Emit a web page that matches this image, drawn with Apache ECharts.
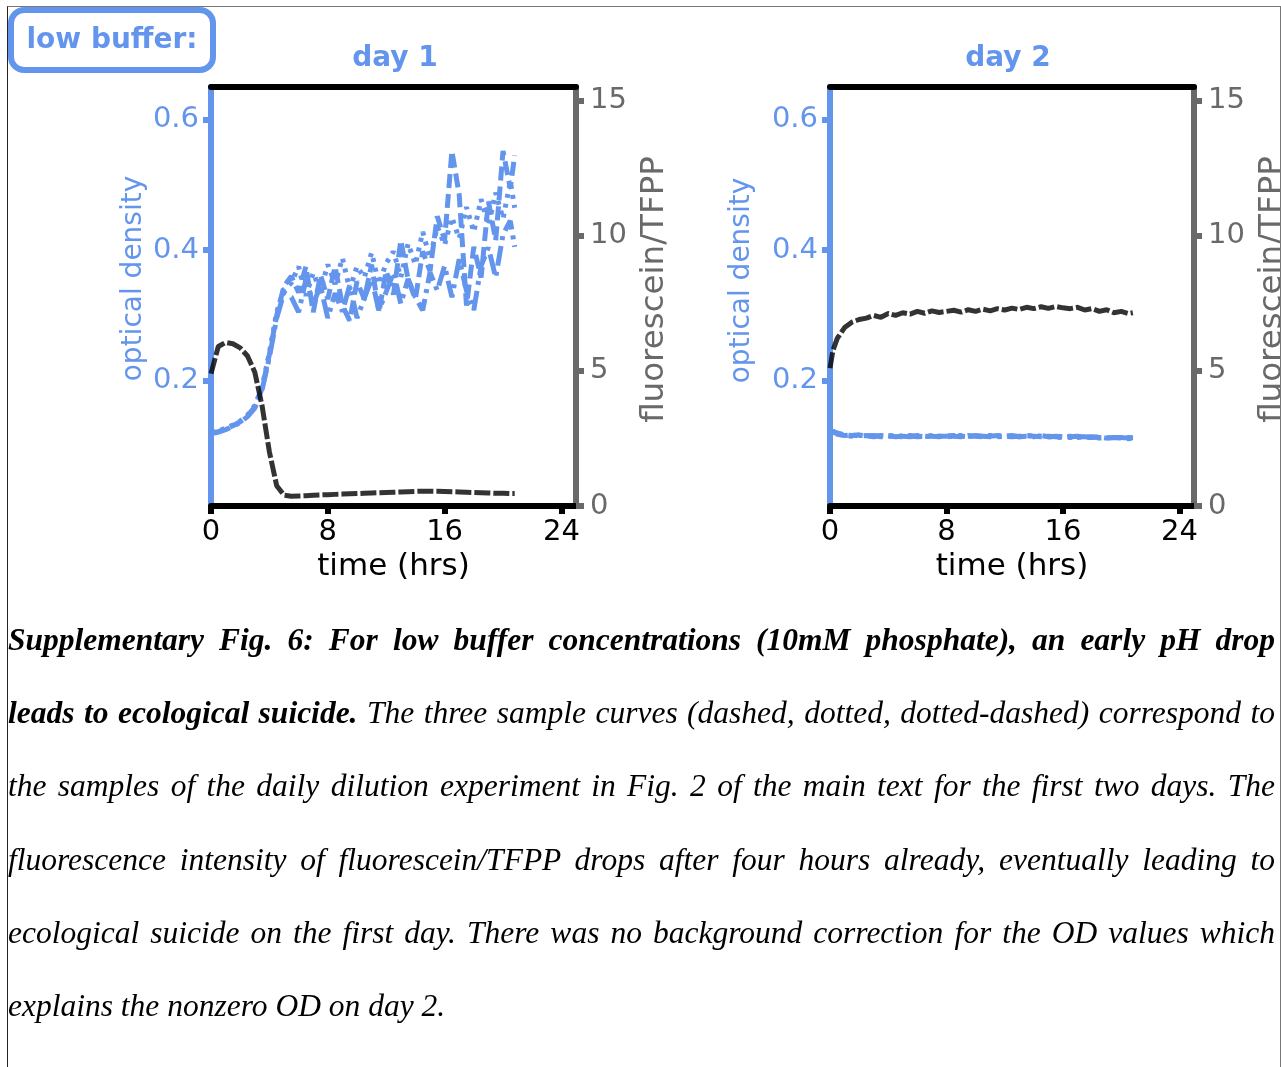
<!DOCTYPE html>
<html>
<head>
<meta charset="utf-8">
<script src="https://cdn.jsdelivr.net/npm/echarts@6.0.0/dist/echarts.min.js"></script>
<style>
  body { margin: 0; background: #fff; width: 1281px; height: 1067px; overflow: hidden; position: relative; }
  #chart { position: absolute; left: 0; top: 0; width: 1281px; height: 600px; }
  #frame { position: absolute; left: 7px; top: 6px; width: 1272px; height: 1200px;
           border-top: 1px solid #777; border-left: 1px solid #222; border-right: 1px solid #777; }
  #caption { position: absolute; left: 8px; top: 603px; width: 1267px;
             font-family: 'Liberation Serif', serif; font-style: italic; font-size: 31.5px;
             line-height: 73.2px; color: #000; }
  #caption .j { text-align: justify; text-align-last: justify; }
</style>
</head>
<body>
<div id="chart"></div>
<div id="frame"></div>
<div id="caption">
  <div class="j"><b>Supplementary Fig. 6: For low buffer concentrations (10mM phosphate), an early pH drop</b></div>
  <div class="j"><b>leads to ecological suicide.</b> The three sample curves (dashed, dotted, dotted-dashed) correspond to</div>
  <div class="j">the samples of the daily dilution experiment in Fig. 2 of the main text for the first two days. The</div>
  <div class="j">fluorescence intensity of fluorescein/TFPP drops after four hours already, eventually leading to</div>
  <div class="j">ecological suicide on the first day. There was no background correction for the OD values which</div>
  <div>explains the nonzero OD on day 2.</div>
</div>
<script>
// tick labels
const xTicks = [0, 8, 16, 24]
const odTicks = [0.2, 0.4, 0.6]
const flTicks = [0, 5, 10, 15]

// day 1 (hours)
const hours1 = [0, 0.5, 1, 1.5, 2, 2.5, 3, 3.5, 4, 4.5, 5, 5.5, 6, 6.5, 7, 7.5, 8, 8.5, 9, 9.5, 10,
  10.5, 11, 11.5, 12, 12.5, 13, 13.5, 14, 14.5, 15, 15.5, 16, 16.5, 17, 17.5, 18, 18.5, 19, 19.5, 20, 20.5, 20.8]
// optical density, sample curves: dashed / dotted / dotted-dashed
const od1a = [0.120, 0.122, 0.126, 0.131, 0.137, 0.146, 0.160, 0.188, 0.240, 0.300, 0.345,
  0.360, 0.335, 0.375, 0.305, 0.362, 0.325, 0.375, 0.315, 0.292, 0.352, 0.325, 0.378, 0.305, 0.368, 0.332, 0.415,
  0.355, 0.325, 0.398, 0.368, 0.452, 0.415, 0.552, 0.485, 0.315, 0.405, 0.358, 0.475, 0.415, 0.552, 0.495, 0.545]
const od1b = [0.121, 0.123, 0.127, 0.132, 0.138, 0.147, 0.162, 0.190, 0.243, 0.305, 0.340,
  0.350, 0.375, 0.330, 0.365, 0.338, 0.378, 0.348, 0.388, 0.340, 0.375, 0.358, 0.396, 0.348, 0.380, 0.398, 0.358,
  0.410, 0.378, 0.428, 0.388, 0.436, 0.408, 0.450, 0.418, 0.466, 0.428, 0.478, 0.438, 0.488, 0.448, 0.505, 0.465]
const od1c = [0.119, 0.121, 0.125, 0.130, 0.136, 0.145, 0.158, 0.186, 0.236, 0.296, 0.335,
  0.328, 0.305, 0.355, 0.318, 0.345, 0.296, 0.334, 0.306, 0.346, 0.296, 0.326, 0.356, 0.308, 0.336, 0.366, 0.318,
  0.356, 0.328, 0.308, 0.366, 0.338, 0.376, 0.328, 0.386, 0.338, 0.308, 0.376, 0.404, 0.358, 0.424, 0.445, 0.405]
// fluorescein/TFPP
const fl1 = [4.9, 5.9, 6.05, 6.0, 5.85, 5.55, 4.95, 3.7, 2.0, 0.75, 0.40,
  0.36, 0.37, 0.38, 0.40, 0.41, 0.42, 0.43, 0.44, 0.45, 0.46, 0.47, 0.48, 0.49, 0.50, 0.51, 0.52,
  0.53, 0.54, 0.55, 0.55, 0.55, 0.54, 0.53, 0.52, 0.51, 0.50, 0.49, 0.48, 0.47, 0.47, 0.46, 0.46]

// day 2 (hours)
const hours2 = [0, 0.2, 0.5, 1, 1.5, 2, 2.5, 3, 3.5, 4, 4.5, 5, 5.5, 6, 6.5, 7, 7.5, 8, 8.5, 9, 9.5, 10,
  10.5, 11, 11.5, 12, 12.5, 13, 13.5, 14, 14.5, 15, 15.5, 16, 16.5, 17, 17.5, 18, 18.5, 19, 19.5, 20, 20.5, 20.8]
const od2a = [0.118, 0.122, 0.120, 0.117, 0.116, 0.117, 0.115, 0.116, 0.115, 0.116, 0.114, 0.115, 0.116, 0.114,
  0.115, 0.115, 0.114, 0.116, 0.115, 0.114, 0.116, 0.115, 0.114, 0.115, 0.116, 0.115, 0.114, 0.115, 0.116, 0.115,
  0.114, 0.115, 0.114, 0.113, 0.114, 0.115, 0.113, 0.114, 0.113, 0.112, 0.113, 0.112, 0.113, 0.112]
const od2b = [0.117, 0.121, 0.119, 0.116, 0.115, 0.116, 0.116, 0.115, 0.114, 0.115, 0.115, 0.114, 0.115, 0.115,
  0.114, 0.116, 0.115, 0.114, 0.115, 0.116, 0.115, 0.114, 0.115, 0.116, 0.114, 0.115, 0.115, 0.114, 0.115, 0.116,
  0.115, 0.114, 0.113, 0.114, 0.115, 0.113, 0.114, 0.113, 0.112, 0.113, 0.112, 0.113, 0.111, 0.112]
const od2c = [0.119, 0.123, 0.118, 0.116, 0.117, 0.115, 0.116, 0.114, 0.116, 0.115, 0.116, 0.115, 0.114, 0.116,
  0.115, 0.114, 0.115, 0.115, 0.116, 0.115, 0.114, 0.116, 0.115, 0.114, 0.115, 0.115, 0.116, 0.114, 0.115, 0.114,
  0.116, 0.114, 0.115, 0.114, 0.113, 0.114, 0.114, 0.113, 0.114, 0.112, 0.113, 0.113, 0.112, 0.113]
const fl2 = [5.1, 5.75, 6.2, 6.6, 6.8, 6.9, 6.95, 7.05, 6.98, 7.12, 7.05, 7.15, 7.1, 7.2, 7.13, 7.22, 7.16, 7.2,
  7.24, 7.17, 7.26, 7.2, 7.28, 7.22, 7.3, 7.25, 7.32, 7.27, 7.35, 7.3, 7.37, 7.31, 7.38, 7.33, 7.3, 7.35, 7.25,
  7.3, 7.2, 7.26, 7.15, 7.2, 7.12, 7.15]

const blue = '#6495ED'
const gray = '#696969'
const black = 'rgba(0,0,0,0.8)'

function pairs (xs, ys) {
  return xs.map((x, i) => [x, ys[i]])
}

function bottomAxis (g) {
  return {
    type: 'value', gridIndex: g, position: 'bottom', min: 0, max: 25,
    axisLine: { show: true, onZero: false, lineStyle: { color: '#000', width: 6 } },
    axisTick: { show: true, length: 8, lineStyle: { color: '#000', width: 6 }, customValues: xTicks },
    axisLabel: { color: '#000', fontSize: 29, margin: 12, customValues: xTicks },
    splitLine: { show: false },
    name: 'time (hrs)', nameLocation: 'middle', nameGap: 40,
    nameTextStyle: { color: '#000', fontSize: 31 }
  }
}

function topAxis (g) {
  return {
    type: 'value', gridIndex: g, position: 'top', min: 0, max: 25,
    axisLine: { show: true, onZero: false, lineStyle: { color: '#000', width: 6 } },
    axisTick: { show: false }, axisLabel: { show: false }, splitLine: { show: false }
  }
}

// shift lifts the rotated name above the axis middle
function odAxis (g, gap, shift) {
  return {
    type: 'value', gridIndex: g, position: 'left', min: 0.008, max: 0.65,
    axisLine: { show: true, onZero: false, lineStyle: { color: blue, width: 6 } },
    axisTick: { show: true, length: 8, lineStyle: { color: blue, width: 6 }, customValues: odTicks },
    axisLabel: { color: blue, fontSize: 29, margin: 12, customValues: odTicks, formatter: v => v.toFixed(1) },
    splitLine: { show: false },
    name: 'optical density', nameLocation: 'middle', nameGap: gap,
    nameTextStyle: { color: blue, fontSize: 28, padding: [0, 0, 0, shift] }
  }
}

function flAxis (g) {
  return {
    type: 'value', gridIndex: g, position: 'right', min: 0, max: 15.5,
    axisLine: { show: true, onZero: false, lineStyle: { color: gray, width: 6 } },
    axisTick: { show: true, length: 8, lineStyle: { color: gray, width: 6 }, customValues: flTicks },
    axisLabel: { color: gray, fontSize: 29, margin: 14, customValues: flTicks },
    splitLine: { show: false },
    name: 'fluorescein/TFPP', nameLocation: 'middle', nameGap: 62,
    nameTextStyle: { color: gray, fontSize: 32.5, padding: [0, 0, 0, 14] }
  }
}

function curve (xi, yi, data, color, dash, width) {
  return {
    type: 'line', xAxisIndex: xi, yAxisIndex: yi, data: data, symbol: 'none', silent: true,
    lineStyle: { color: color, width: width, type: dash, cap: 'butt' }
  }
}

const chart = echarts.init(document.getElementById('chart'))
chart.setOption({
  animation: false,
  textStyle: { fontFamily: 'DejaVu Sans' },
  grid: [
    { left: 211, top: 87, width: 365, height: 419, outerBoundsMode: 'none' },
    { left: 830, top: 87, width: 364, height: 419, outerBoundsMode: 'none' }
  ],
  xAxis: [bottomAxis(0), topAxis(0), bottomAxis(1), topAxis(1)],
  yAxis: [odAxis(0, 63, 36), flAxis(0), odAxis(1, 74, 32), flAxis(1)],
  graphic: [
    { type: 'rect', shape: { x: 11, y: 10, width: 202, height: 60, r: 13 },
      style: { fill: '#fff', stroke: blue, lineWidth: 6 } },
    { type: 'text', x: 112, y: 41,
      style: { text: 'low buffer:', fill: blue, font: 'bold 28px "DejaVu Sans"', align: 'center', verticalAlign: 'middle' } },
    { type: 'text', x: 395, y: 59,
      style: { text: 'day 1', fill: blue, font: 'bold 28px "DejaVu Sans"', align: 'center', verticalAlign: 'middle' } },
    { type: 'text', x: 1008, y: 59,
      style: { text: 'day 2', fill: blue, font: 'bold 28px "DejaVu Sans"', align: 'center', verticalAlign: 'middle' } }
  ],
  series: [
    curve(0, 0, pairs(hours1, od1a), blue, [14, 6], 5),
    curve(0, 0, pairs(hours1, od1b), blue, [4, 6], 5),
    curve(0, 0, pairs(hours1, od1c), blue, [20, 6, 4, 6], 5),
    curve(0, 1, pairs(hours1, fl1), black, [16, 3], 5),
    curve(2, 2, pairs(hours2, od2a), blue, [14, 6], 5),
    curve(2, 2, pairs(hours2, od2b), blue, [4, 6], 5),
    curve(2, 2, pairs(hours2, od2c), blue, [20, 6, 4, 6], 5),
    curve(2, 3, pairs(hours2, fl2), black, [16, 3], 5)
  ]
})
</script>
</body>
</html>
